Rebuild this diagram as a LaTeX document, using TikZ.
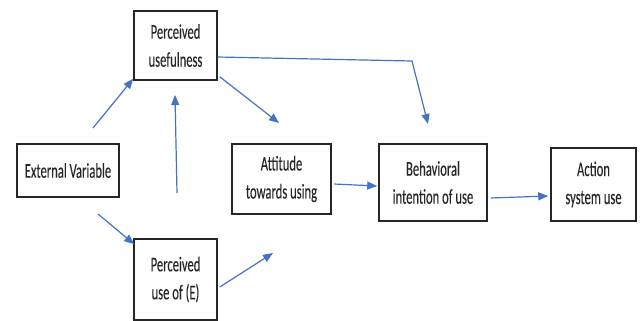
\documentclass[tikz,border=0pt]{standalone}
\usepackage{fontspec}
\setmainfont{Carlito}[FakeStretch=0.6,FakeBold=0.12]
\usetikzlibrary{arrows.meta,calc}
\definecolor{arrblue}{HTML}{4472C4}
\begin{document}
\begin{tikzpicture}[x=1pt,y=-1pt,
  box/.style={draw=black!85,line width=1.6pt,fill=white,align=center,inner sep=0pt,
    text=black!85,font=\fontsize{21}{28}\selectfont},
  conn/.style={draw=arrblue,line width=1.2pt,-{Triangle[length=10pt,width=8pt]}}]
\useasboundingbox[fill=white] (0,0) rectangle (642,321);
% boxes
\node[box,minimum width=83pt,minimum height=69pt] (pu) at (175.5,45.5) {Perceived\\usefulness};
\node[box,minimum width=102pt,minimum height=53pt] (ev) at (68,170.5) {External Variable};
\node[box,minimum width=99pt,minimum height=70pt] (att) at (281.5,179) {Attitude\\towards using};
\node[box,minimum width=108pt,minimum height=77pt] (beh) at (433,182.5) {Behavioral\\intention of use};
\node[box,minimum width=85pt,minimum height=73pt] (act) at (593.5,184.5) {Action\\system use};
\node[box,minimum width=83pt,minimum height=81pt] (peu) at (175.5,279.5) {Perceived\\use of (E)};
% free ends
\coordinate (c1) at (93,128);
\coordinate (c2s) at (177,193);
\coordinate (c2e) at (175,95);
\coordinate (c3) at (279,123);
\coordinate (c4) at (412,61);
\coordinate (c4e) at (428,124);
\coordinate (c5) at (98,214);
\coordinate (c6) at (273,253);
% connectors
\draw[conn] (c1) -- ($(pu.south west)+(0,-2)$);
\draw[conn] (c2s) -- (c2e);
\draw[conn] ($(pu.south east)+(2,-4)$) -- (c3);
\draw[conn] ($(pu.east)+(0,11.5)$) -- (c4) -- (c4e);
\draw[conn] (c5) -- ($(peu.north west)+(1,6)$);
\draw[conn] ($(peu.east)+(2,7.5)$) -- (c6);
\draw[conn] ($(att.east)+(2,5)$) -- ($(beh.west)+(-1,3.5)$);
\draw[conn] ($(beh.east)+(3,15.5)$) -- ($(act.west)+(-2,11.5)$);
\end{tikzpicture}
\end{document}
